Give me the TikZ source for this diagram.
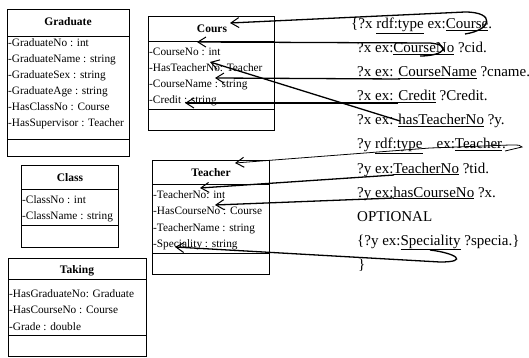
\documentclass[tikz,border=0pt]{standalone}
\usepackage{fontspec}
\setmainfont{Liberation Serif}
\usetikzlibrary{arrows.meta}
\begin{document}
\begin{tikzpicture}[x=1pt,y=-1pt,
  box/.style={draw=black,line width=0.9pt},
  ttl/.style={font=\fontsize{11.5}{14}\selectfont\bfseries,inner sep=0pt,anchor=base},
  attr/.style={font=\fontsize{11.3}{14}\selectfont,inner sep=0pt,anchor=base west},
  q/.style={font=\fontsize{15}{18}\selectfont,inner sep=0pt,anchor=base west},
  arr/.style={draw=black,line width=1.3pt,-{Straight Barb[length=8pt,width=10pt,line width=1pt]}},
  thinarr/.style={arr,line width=0.8pt}]
\useasboundingbox (0,0) rectangle (529,358);

% Graduate
\draw[box] (7,9) rectangle (129,156);
\draw[box] (7,36) -- (129,36);
\draw[box] (7,139) -- (129,139);
\node[ttl] (gT) at (68,26) {Graduate};
\node[attr] (g1) at (8,47) {-GraduateNo : int};
\node[attr] (g2) at (8,63) {-GraduateName : string};
\node[attr] (g3) at (8,79) {-GraduateSex : string};
\node[attr] (g4) at (8,95) {-GraduateAge : string};
\node[attr] (g5) at (8,111) {-HasClassNo : Course};
\node[attr] (g6) at (8,127) {-HasSupervisor : Teacher};

% Class
\draw[box] (21,165) rectangle (118,247);
\draw[box] (21,189) -- (118,189);
\draw[box] (21,225) -- (118,225);
\node[ttl] (cT) at (70,181) {Class};
\node[attr] (c1) at (22,203) {-ClassNo : int};
\node[attr] (c2) at (22,219) {-ClassName : string};

% Taking
\draw[box] (8,258) rectangle (146,356);
\draw[box] (8,279) -- (146,279);
\draw[box] (8,335) -- (146,335);
\node[ttl] (kT) at (77,273) {Taking};
\node[attr] (k1) at (9,297) {-HasGraduateNo: Graduate};
\node[attr] (k2) at (9,313) {-HasCourseNo : Course};
\node[attr] (k3) at (9,330) {-Grade : double};

% Cours
\draw[box] (148,16) rectangle (274,130);
\draw[box] (148,41) -- (274,41);
\draw[box] (148,109) -- (274,109);
\node[ttl] (oT) at (212,33) {Cours};
\node[attr] (o1) at (149,56) {-CourseNo : int};
\node[attr] (o2) at (149,72) {-HasTeacherNo: Teacher};
\node[attr] (o3) at (149,88) {-CourseName : string};
\node[attr] (o4) at (149,104) {-Credit : string};

% Teacher
\draw[box] (152,160) rectangle (269,274);
\draw[box] (152,184) -- (269,184);
\draw[box] (152,253) -- (269,253);
\node[ttl] (tT) at (211,176) {Teacher};
\node[attr] (t1) at (153,198) {-TeacherNo: int};
\node[attr] (t2) at (153,214) {-HasCourseNo : Course};
\node[attr] (t3) at (153,231) {-TeacherName : string};
\node[attr] (t4) at (153,247) {-Speciality : string};

% Query text
\node[q] (L0) at (351,29) {\{?x \underline{rdf:type} ex:\underline{Course}.};
\node[q] (L1) at (357,53) {?x ex:\underline{CourseNo} ?cid.};
\node[q] (L2) at (357,77) {?x ex: \underline{CourseName} ?cname.};
\node[q] (L3) at (357,101) {?x ex: \underline{Credit} ?Credit.};
\node[q] (L4) at (357,125) {?x ex: \underline{hasTeacherNo} ?y.};
\node[q] (L5) at (357,149) {?y \underline{rdf:type}\hspace{14pt}ex:\underline{Teacher}.};
\node[q] (L6) at (357,173) {?y ex:\underline{TeacherNo} ?tid.};
\node[q] (L7) at (357,197) {?y ex:\underline{hasCourseNo} ?x.};
\node[q] (L8) at (357,221) {OPTIONAL};
\node[q] (L9) at (357,245) {\{?y ex:\underline{Speciality} ?specia.\}};
\node[q] (L10) at (358,269) {\}};

% connector end points
\coordinate (a1) at (230,23);
\coordinate (a2) at (197,42);
\coordinate (a3) at (215,78);
\coordinate (a4) at (185,103);
\coordinate (a5) at (210,62);
\coordinate (a6) at (235,163);
\coordinate (a7) at (200,188);
\coordinate (a8) at (215,205);
\coordinate (a9) at (175,247);
\coordinate (s1) at (465,34);
\coordinate (s2) at (420,56);
\coordinate (s3) at (400,79);
\coordinate (s4) at (398,103);
\coordinate (s5) at (400,121);
\coordinate (s6) at (505,151);
\coordinate (s7) at (394,175);
\coordinate (s8) at (394,198);
\coordinate (s9) at (430,250);

\draw[arr] (s1) .. controls (492,30) and (496,12) .. (465,12) -- (a1);
\draw[arr] (s2) .. controls (445,56) and (452,45) .. (430,43) -- (a2);
\draw[arr] (s3) -- (a3);
\draw[arr] (s4) -- (a4);
\draw[arr] (s5) -- (a5);
\draw[thinarr] (s6) -- (522,147) .. controls (520,145) .. (510,145) -- (430,148) -- (a6);
\draw[arr] (s7) -- (a7);
\draw[arr] (s8) -- (a8);
\draw[arr] (s9) .. controls (455,253) and (470,262) .. (440,262) -- (a9);
\end{tikzpicture}
\end{document}
